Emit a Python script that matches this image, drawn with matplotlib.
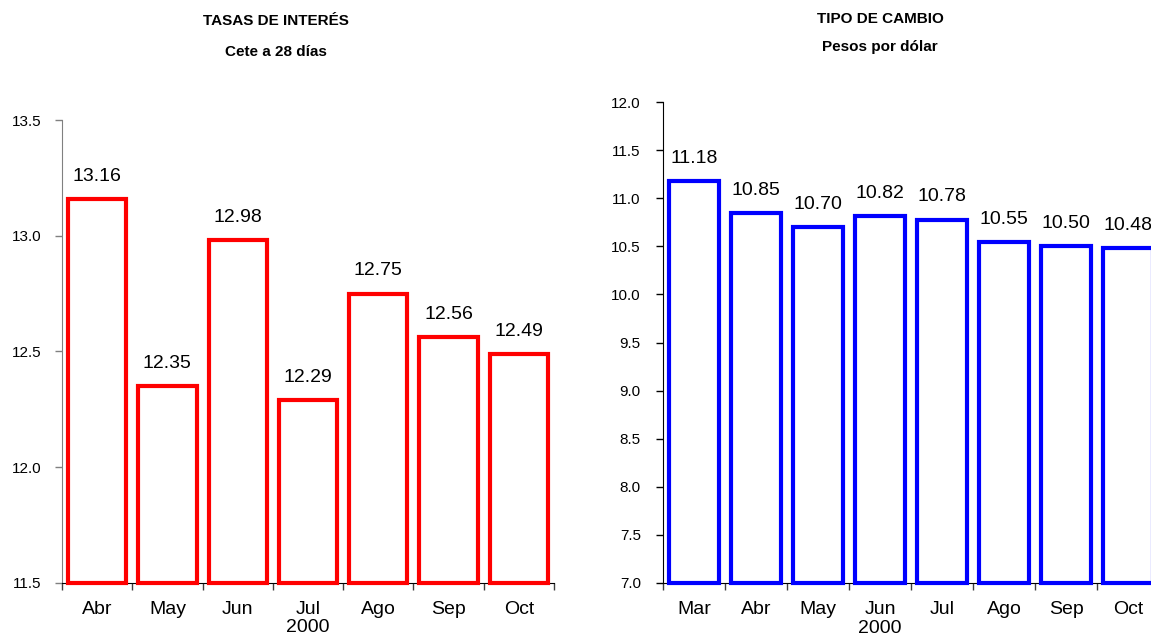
import matplotlib
matplotlib.use("Agg")
import matplotlib.pyplot as plt
import numpy as np
from matplotlib.ticker import FormatStrFormatter, MultipleLocator, FixedLocator

plt.rcParams.update({
    "font.family": ["Liberation Sans", "DejaVu Sans"],
    "figure.facecolor": "white",
})

# Tasas de interés, Cete a 28 días
cete_months = ["Abr", "May", "Jun", "Jul", "Ago", "Sep", "Oct"]
cete_values = [13.16, 12.35, 12.98, 12.29, 12.75, 12.56, 12.49]

# Tipo de cambio, pesos por dólar
fx_months = ["Mar", "Abr", "May", "Jun", "Jul", "Ago", "Sep", "Oct"]
fx_values = [11.18, 10.85, 10.70, 10.82, 10.78, 10.55, 10.50, 10.48]

year_label = "2000"

W, H = 1151, 637
fig = plt.figure(figsize=(W / 100, H / 100), dpi=100)


def draw_panel(rect, months, values, ylim, color, spine_color, bar_width, ytick_pad):
    ax = fig.add_axes(rect)
    x = np.arange(len(months))
    ymin = ylim[0]
    ax.bar(x, np.array(values) - ymin, bottom=ymin, width=bar_width,
           facecolor="white", edgecolor=color, linewidth=3, zorder=3,
           clip_on=False)
    ax.set_xlim(-0.5, len(months) - 0.5)
    ax.set_ylim(*ylim)

    for side in ("top", "right"):
        ax.spines[side].set_visible(False)
    ax.spines["left"].set_color(spine_color)
    ax.spines["bottom"].set_color("black")

    ax.yaxis.set_major_locator(MultipleLocator(0.5))
    ax.yaxis.set_major_formatter(FormatStrFormatter("%.1f"))
    ax.tick_params(axis="y", direction="out", length=5, width=1,
                   color=spine_color, labelsize=11, pad=ytick_pad)

    ax.set_xticks(x)
    ax.set_xticklabels(months)
    ax.tick_params(axis="x", which="major", length=0, labelsize=14, pad=13)
    ax.xaxis.set_minor_locator(FixedLocator(np.arange(len(months) + 1) - 0.5))
    ax.tick_params(axis="x", which="minor", direction="out", length=5,
                   width=1, color="#404040")

    for xi, v in zip(x, values):
        ax.annotate(f"{v:.2f}", (xi, v), xytext=(0, 13),
                    textcoords="offset points", ha="center", va="baseline",
                    fontsize=14, annotation_clip=False)

    ax.text(3, -0.078, year_label, transform=ax.get_xaxis_transform(),
            ha="center", va="top", fontsize=14)
    return ax


draw_panel([62 / W, 1 - 582.7 / H, 492 / W, (582.7 - 120) / H],
           cete_months, cete_values, (11.5, 13.5), "#FF0000", "#808080",
           0.83, 10)
draw_panel([663 / W, 1 - 582.7 / H, 496 / W, (582.7 - 102.3) / H],
           fx_months, fx_values, (7.0, 12.0), "#0000FF", "black",
           0.80, 11)

fig.text(275.5 / W, 1 - 21 / H, "TASAS DE INTERÉS", ha="center", va="center",
         fontsize=11, fontweight="bold")
fig.text(275.5 / W, 1 - 52 / H, "Cete a 28 días", ha="center", va="center",
         fontsize=11, fontweight="bold")
fig.text(880 / W, 1 - 19 / H, "TIPO DE CAMBIO", ha="center", va="center",
         fontsize=11, fontweight="bold")
fig.text(880 / W, 1 - 47 / H, "Pesos por dólar", ha="center", va="center",
         fontsize=11, fontweight="bold")

fig.savefig("out.png", dpi=100)
